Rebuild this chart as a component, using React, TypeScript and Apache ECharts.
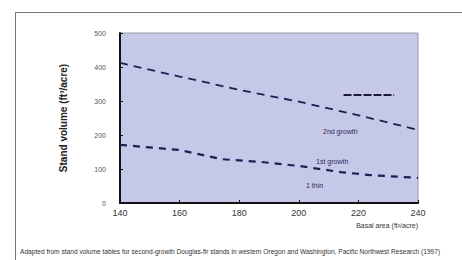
import React, { useEffect, useRef } from "react";
import * as echarts from "echarts";

const xValues = [140, 160, 180, 200, 220, 240];
const upperSeries = [412, 372, 333, 298, 258, 215];
const lowerPoints: [number, number][] = [
  [140, 171], [160, 156], [174, 129], [187, 121], [200, 109], [214, 91], [224, 82], [240, 74],
];
const shortSegment: [number, number][] = [[215, 318], [232, 318]];
const yTicks = [0, 100, 200, 300, 400, 500];
const curveLabels = ["2nd growth", "1st growth", "1 thin"];

export default function App() {
  const ref = useRef<HTMLDivElement>(null);
  useEffect(() => {
    if (!ref.current) return;
    const chart = echarts.init(ref.current, null, { renderer: "svg" });
    const navy = "#1f1f55";
    chart.setOption({
      animation: false,
      backgroundColor: "transparent",
      grid: {
        left: 120, top: 33, right: 44, bottom: 57,
        show: true, backgroundColor: "#c6c8e8", borderColor: "#9a9aa8", borderWidth: 1,
      },
      xAxis: {
        type: "value", min: 140, max: 240, interval: 20,
        axisLine: { show: true, lineStyle: { color: "#111", width: 2 } },
        axisTick: { show: true, inside: true, length: 3, lineStyle: { color: "#111" } },
        axisLabel: { fontSize: 9, color: "#333", fontFamily: "Liberation Sans", margin: 5 },
        splitLine: { show: false },
        name: "Basal area (ft²/acre)",
        nameLocation: "end",
        nameGap: 0,
        nameTextStyle: { fontSize: 7, color: "#333", fontFamily: "Liberation Sans", align: "right", verticalAlign: "top", padding: [19, 0, 0, 0] },
      },
      yAxis: {
        type: "value", min: 0, max: 500, interval: 100,
        axisLine: { show: true, lineStyle: { color: "#111", width: 2 } },
        axisTick: { show: true, inside: true, length: 3, lineStyle: { color: "#111" } },
        axisLabel: {
          fontSize: 7, color: "#555", fontFamily: "Liberation Sans", margin: 14,
          formatter: (v: number) => (yTicks.includes(v) ? String(v) : ""),
        },
        splitLine: { show: false },
        name: "Stand volume (ft³/acre)",
        nameLocation: "middle",
        nameGap: 52,
        nameTextStyle: { fontSize: 10, fontWeight: "bold", color: "#222", fontFamily: "Liberation Sans" },
      },
      series: [
        {
          type: "line", data: xValues.map((x, i) => [x, upperSeries[i]]),
          symbol: "none", lineStyle: { color: navy, width: 1.8, type: [8, 6] },
        },
        {
          type: "line", data: lowerPoints,
          symbol: "none", lineStyle: { color: navy, width: 2.2, type: [7, 6] },
        },
        {
          type: "line", data: shortSegment,
          symbol: "none", lineStyle: { color: "#1a1a40", width: 2, type: [8, 2] },
        },
      ],
      graphic: [
        { type: "text", x: 323, y: 128, style: { text: curveLabels[0], fontSize: 7, fill: "#2a2a5a", fontFamily: "Liberation Sans" } },
        { type: "text", x: 316, y: 158, style: { text: curveLabels[1], fontSize: 7, fill: "#2a2a5a", fontFamily: "Liberation Sans" } },
        { type: "text", x: 306, y: 182, style: { text: curveLabels[2], fontSize: 7, fill: "#2a2a5a", fontFamily: "Liberation Sans" } },
        {
          type: "text", x: 20, y: 248,
          style: {
            text: "Adapted from stand volume tables for second-growth Douglas-fir stands in western Oregon and Washington, Pacific Northwest Research (1997)",
            fontSize: 6.6, fill: "#333", fontFamily: "Liberation Sans",
          },
        },
      ],
    });
    return () => chart.dispose();
  }, []);
  return (
    <div style={{ position: "absolute", left: 0, top: 0, width: 462, height: 260, overflow: "hidden", background: "#fff" }}>
      <div style={{ position: "absolute", left: 15, top: 12, width: 470, height: 270, border: "1px solid #777", boxSizing: "border-box" }} />
      <div ref={ref} style={{ width: 462, height: 260, position: "absolute", left: 0, top: 0 }} />
    </div>
  );
}
